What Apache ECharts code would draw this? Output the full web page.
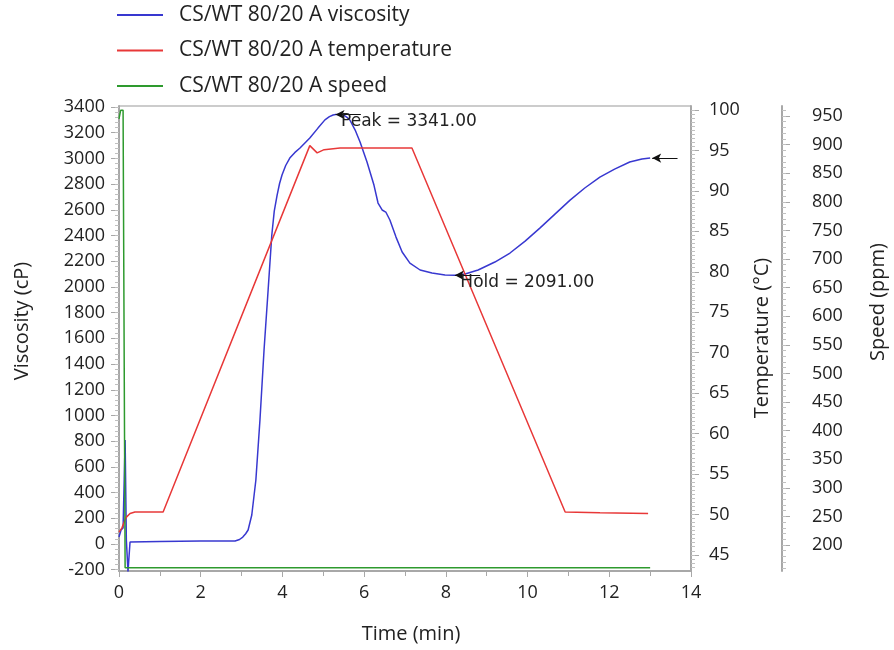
<!DOCTYPE html>
<html>
<head>
<meta charset="utf-8">
<script src="https://cdn.jsdelivr.net/npm/echarts@6/dist/echarts.min.js"></script>
<style>
  html, body { margin: 0; padding: 0; background: #fff; }
  #main { width: 894px; height: 650px; }
</style>
</head>
<body>
<div id="main"></div>
<script>
// RVA pasting curve
const viscTime = [0, 0.05, 0.1, 0.15, 0.18, 0.22, 0.27, 1.0, 2.0, 2.84, 2.95, 3.03, 3.1, 3.16, 3.25, 3.35, 3.45, 3.55, 3.65, 3.74, 3.8, 3.87, 3.93, 3.99, 4.08, 4.18, 4.3, 4.43, 4.55, 4.67, 4.87, 5.04, 5.15, 5.24, 5.3, 5.4, 5.5, 5.58, 5.65, 5.78, 5.9, 6.07, 6.24, 6.34, 6.44, 6.53, 6.63, 6.78, 6.93, 7.12, 7.37, 7.66, 7.98, 8.22, 8.47, 8.79, 9.2, 9.57, 9.94, 10.3, 10.67, 11.04, 11.4, 11.77, 12.13, 12.5, 12.8, 13.0];
const viscosity = [54, 109, 124, 809, 31, -215, 16, 20, 23, 23, 35, 54, 80, 109, 226, 498, 965, 1509, 1976, 2404, 2590, 2715, 2805, 2871, 2945, 3003, 3045, 3081, 3120, 3159, 3236, 3300, 3325, 3338, 3341, 3341, 3338, 3320, 3299, 3221, 3128, 2972, 2793, 2653, 2599, 2583, 2521, 2388, 2272, 2186, 2132, 2108, 2093, 2091, 2101, 2132, 2194, 2264, 2357, 2458, 2567, 2676, 2770, 2855, 2917, 2972, 2995, 3003];

const tempTime = [0, 0.07, 0.17, 0.27, 0.39, 1.08, 4.67, 4.85, 5.02, 5.41, 7.17, 10.92, 11.77, 12.95];
const temperature = [47.8, 48.3, 49.6, 50.1, 50.3, 50.3, 95.6, 94.7, 95.1, 95.3, 95.3, 50.3, 50.2, 50.1];

const speedTime = [0, 0.04, 0.1, 0.15, 13.0];
const speed = [945, 960, 960, 160, 160];

const seriesNames = ['CS/WT 80/20 A viscosity', 'CS/WT 80/20 A temperature', 'CS/WT 80/20 A speed'];
const seriesColors = ['#3838d0', '#e83838', '#2e9a2e'];

const peak = { time: 5.3, value: 3341, label: 'Peak = 3341.00' };
const hold = { time: 8.22, value: 2091, label: 'Hold = 2091.00' };
const final = { time: 13.05, value: 3003 };

const viscTicks = [-200, 0, 200, 400, 600, 800, 1000, 1200, 1400, 1600, 1800, 2000, 2200, 2400, 2600, 2800, 3000, 3200, 3400];
const tempTicks = [45, 50, 55, 60, 65, 70, 75, 80, 85, 90, 95, 100];
const speedTicks = [200, 250, 300, 350, 400, 450, 500, 550, 600, 650, 700, 750, 800, 850, 900, 950];

const FONT = 'Open Sans';
const TXT = '#222';

function zip(xs, ys) { return xs.map((x, i) => [x, ys[i]]); }
function steps(a, b, s) { const r = []; for (let v = a; v <= b + 1e-9; v += s) r.push(+v.toFixed(3)); return r; }

const ranges = {
  visc: [-210, 3408],
  temp: [43, 100.5],
  speed: [154.5, 967.5]
};

function mainAxis(range, ticks, position, offset, margin) {
  return {
    type: 'value', position, offset, min: range[0], max: range[1],
    axisLine: { show: true, onZero: false, lineStyle: { color: '#a8a8a8', width: 2 } },
    axisTick: { show: true, customValues: ticks, length: 8, lineStyle: { color: '#a8a8a8' } },
    axisLabel: { customValues: ticks, fontSize: 18, fontFamily: FONT, color: TXT, margin, formatter: v => String(v) },
    splitLine: { show: false }
  };
}
function minorAxis(range, ticks, position, offset) {
  return {
    type: 'value', position, offset, min: range[0], max: range[1],
    axisLine: { show: false },
    axisTick: { show: true, customValues: ticks, length: 4, lineStyle: { color: '#c0c0c0' } },
    axisLabel: { show: false },
    splitLine: { show: false }
  };
}

const titleStyle = { font: '20px "Open Sans"', fill: TXT, textAlign: 'center', textVerticalAlign: 'middle', align: 'center', verticalAlign: 'middle' };

const chart = echarts.init(document.getElementById('main'));
chart.setOption({
  animation: false,
  backgroundColor: '#fff',
  grid: { left: 119, right: 203, top: 106, bottom: 79, show: true, borderColor: '#999', borderWidth: 1, containLabel: false },
  legend: {
    orient: 'vertical', left: 117, top: 4, padding: 0,
    icon: 'rect', itemWidth: 46, itemHeight: 2, itemGap: 13.5,
    data: seriesNames,
    textStyle: { fontSize: 21, fontFamily: FONT, color: TXT, lineHeight: 22, padding: [0, 0, 0, 11] }
  },
  xAxis: {
    type: 'value', min: 0, max: 14, interval: 2,
    axisLine: { show: true, onZero: false, lineStyle: { color: '#a8a8a8', width: 2 } },
    axisTick: { show: true, length: 6, lineStyle: { color: '#a8a8a8' } },
    minorTick: { show: true, splitNumber: 2, length: 5, lineStyle: { color: '#a8a8a8' } },
    axisLabel: { fontSize: 18, fontFamily: FONT, color: TXT, margin: 13 },
    splitLine: { show: false }
  },
  yAxis: [
    mainAxis(ranges.visc, viscTicks, 'left', 0, 14),
    mainAxis(ranges.temp, tempTicks, 'right', 0, 18),
    mainAxis(ranges.speed, speedTicks, 'right', 91, 30),
    minorAxis(ranges.visc, steps(-200, 3400, 40), 'left', 0),
    minorAxis(ranges.temp, steps(43.5, 100, 0.5), 'right', 0),
    minorAxis(ranges.speed, steps(160, 960, 10), 'right', 91)
  ],
  graphic: [
    { type: 'text', x: 22, y: 321, rotation: Math.PI / 2, style: Object.assign({ text: 'Viscosity (cP)' }, titleStyle) },
    { type: 'text', x: 762, y: 338, rotation: Math.PI / 2, style: Object.assign({ text: 'Temperature (°C)' }, titleStyle) },
    { type: 'text', x: 878, y: 302, rotation: Math.PI / 2, style: Object.assign({ text: 'Speed (ppm)' }, titleStyle) },
    { type: 'text', x: 411, y: 634, style: Object.assign({ text: 'Time (min)' }, titleStyle) }
  ],
  series: [
    {
      name: seriesNames[0], type: 'line', yAxisIndex: 0, showSymbol: false, symbol: 'none',
      color: seriesColors[0], lineStyle: { width: 1.5 },
      data: zip(viscTime, viscosity),
      markLine: {
        silent: true, symbol: ['arrow', 'none'], symbolSize: [7, 9],
        label: { show: false },
        lineStyle: { color: '#111', width: 1, type: 'solid' },
        data: [
          [{ coord: [peak.time, peak.value] }, { coord: [peak.time + 0.62, peak.value] }],
          [{ coord: [hold.time, hold.value] }, { coord: [hold.time + 0.62, hold.value] }],
          [{ coord: [final.time, final.value] }, { coord: [final.time + 0.62, final.value] }]
        ]
      },
      markPoint: {
        silent: true, symbol: 'circle', symbolSize: 1, itemStyle: { color: 'rgba(0,0,0,0)' },
        label: { show: true, position: 'right', distance: 5, offset: [0, 7], color: TXT, fontFamily: 'DejaVu Sans', fontSize: 17 },
        data: [
          { coord: [peak.time, peak.value], label: { formatter: peak.label } },
          { coord: [hold.time, hold.value], label: { formatter: hold.label } }
        ]
      }
    },
    {
      name: seriesNames[1], type: 'line', yAxisIndex: 1, showSymbol: false, symbol: 'none',
      color: seriesColors[1], lineStyle: { width: 1.5 },
      data: zip(tempTime, temperature)
    },
    {
      name: seriesNames[2], type: 'line', yAxisIndex: 2, showSymbol: false, symbol: 'none',
      color: seriesColors[2], lineStyle: { width: 1.5 },
      data: zip(speedTime, speed)
    }
  ]
});
</script>
</body>
</html>
